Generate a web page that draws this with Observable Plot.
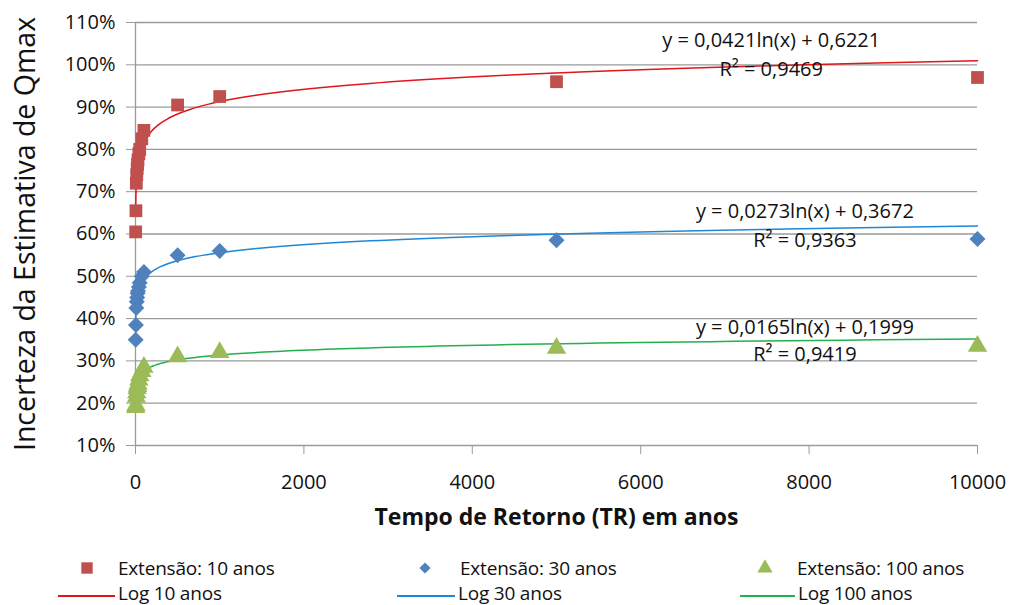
<!DOCTYPE html>
<html>
<head>
<meta charset="utf-8">
<script src="https://cdn.jsdelivr.net/npm/d3@7"></script>
<script src="https://cdn.jsdelivr.net/npm/@observablehq/plot@0.6"></script>
<style>
  body { margin: 0; background: #fff; font-family: "Open Sans", "Liberation Sans", sans-serif; overflow: hidden; }
  #wrap { position: relative; width: 1014px; height: 605px; }
  .leg { position: absolute; font-size: 19px; color: #111; white-space: nowrap; letter-spacing: -0.2px; line-height: 20px; }
  .sw { position: absolute; }
</style>
</head>
<body>
<div id="wrap">
  <div id="chart"></div>
</div>
<script>
// Return periods (TR, years)
const tr = [2, 5, 10, 15, 20, 25, 30, 40, 50, 75, 100, 500, 1000, 5000, 10000];
// Uncertainty for record length 10, 30, 100 years
const ext10  = [0.605, 0.655, 0.72, 0.74, 0.755, 0.765, 0.775, 0.79, 0.80, 0.825, 0.845, 0.905, 0.925, 0.96, 0.97];
const ext30  = [0.35, 0.385, 0.425, 0.44, 0.45, 0.46, 0.465, 0.475, 0.485, 0.50, 0.51, 0.55, 0.56, 0.585, 0.588];
const ext100 = [0.19, 0.195, 0.215, 0.225, 0.235, 0.24, 0.245, 0.255, 0.265, 0.275, 0.285, 0.31, 0.32, 0.33, 0.335];

// Logarithmic trendline coefficients y = a ln(x) + b, and R²
const seriesNames = ["10 anos", "30 anos", "100 anos"];
const trendA = [0.0421, 0.0273, 0.0165];
const trendB = [0.6221, 0.3672, 0.1999];
const trendR2 = ["0,9469", "0,9363", "0,9419"];
const eqText = ["y = 0,0421ln(x) + 0,6221", "y = 0,0273ln(x) + 0,3672", "y = 0,0165ln(x) + 0,1999"];

// x-axis ticks and y-axis ticks
const xTicks = [0, 2000, 4000, 6000, 8000, 10000];
const yTicks = [0.1, 0.2, 0.3, 0.4, 0.5, 0.6, 0.7, 0.8, 0.9, 1.0, 1.1];

const markerColors = ["#C0504D", "#4F81BD", "#9BBB59"];
const lineColors = ["#E0161B", "#1E88D8", "#22B14C"];
const symbols = ["square", "diamond2", "triangle"];
const seriesValues = [ext10, ext30, ext100];

const points = seriesValues.map((vals, i) => tr.map((t, j) => ({tr: t, v: vals[j], s: i})));

// trendline evaluated on the range of TR values (from the printed equation)
const xmin = d3.min(tr), xmax = d3.max(tr);
const curveX = d3.range(0, 201).map(k => xmin * Math.pow(xmax / xmin, k / 200));
const trend = trendA.map((a, i) => curveX.map(x => ({tr: x, v: a * Math.log(x) + trendB[i]})));

const FONT = "Open Sans, Liberation Sans, sans-serif";

const eqPos = [
  {x: 7550, y1: 1.058, y2: 0.988},
  {x: 7950, y1: 0.653, y2: 0.585},
  {x: 7950, y1: 0.378, y2: 0.316}
];

const chart = Plot.plot({
  width: 1014,
  height: 545,
  marginLeft: 135,
  marginRight: 37,
  marginTop: 22,
  marginBottom: 100,
  style: {fontFamily: FONT, fontSize: "20px", color: "#111", background: "white"},
  x: {domain: [0, 10000]},
  y: {domain: [0.1, 1.1]},
  marks: [
    Plot.ruleY(yTicks, {stroke: "#9a9a9a", strokeWidth: 1.3}),
    Plot.ruleX([0], {y1: 0.1, y2: 1.1, stroke: "#9a9a9a", strokeWidth: 1.3}),
    Plot.axisY({ticks: yTicks, tickFormat: d => Math.round(d * 100) + "%", tickSize: 9, tickPadding: 11, stroke: "#9a9a9a",
      label: null, fontSize: 20}),
    Plot.text(["Incerteza da Estimativa de Qmax"], {frameAnchor: "left", dx: -110, rotate: -90, textAnchor: "middle", fontSize: 28.5}),
    Plot.axisX({ticks: xTicks, tickFormat: d => String(d), tickSize: 9, tickPadding: 20, stroke: "#9a9a9a",
      label: null, fontSize: 20}),
    Plot.text(["Tempo de Retorno (TR) em anos"], {frameAnchor: "bottom", dy: 79, fontWeight: "bold", fontSize: 23}),
    ...trend.map((d, i) => Plot.line(d, {x: "tr", y: "v", stroke: lineColors[i], strokeWidth: 1.5})),
    ...points.map((d, i) => Plot.dot(d, {x: "tr", y: "v", fill: markerColors[i], symbol: symbols[i], r: 7.2, stroke: null})),
    ...eqPos.map((p, i) => Plot.text([eqText[i]], {x: () => p.x, y: () => p.y1, fontSize: 20})),
    ...eqPos.map((p, i) => Plot.text(["R² = " + trendR2[i]], {x: () => p.x, y: () => p.y2, fontSize: 20}))
  ]
});
document.getElementById("chart").appendChild(chart);

// legend below the plot
const wrap = document.getElementById("wrap");
const legCols = [{m: 87, t: 118, l1: 58, l2: 115}, {m: 425, t: 460, l1: 397, l2: 455}, {m: 765, t: 797, l1: 740, l2: 795}];
const symPath = {
  square: d3.symbol(d3.symbolSquare, 130)(),
  diamond2: d3.symbol(d3.symbolDiamond2, 80)(),
  triangle: d3.symbol(d3.symbolTriangle, 100)()
};
const row1 = 568, row2 = 593;
legCols.forEach((c, i) => {
  const s = document.createElementNS("http://www.w3.org/2000/svg", "svg");
  s.setAttribute("width", 20); s.setAttribute("height", 20);
  s.setAttribute("class", "sw");
  s.style.left = (c.m - 10) + "px"; s.style.top = (row1 - 10) + "px";
  s.innerHTML = `<path transform="translate(10,10)" d="${symPath[symbols[i]]}" fill="${markerColors[i]}"/>`;
  wrap.appendChild(s);
  const t1 = document.createElement("div");
  t1.className = "leg"; t1.textContent = "Extensão: " + seriesNames[i];
  t1.style.left = c.t + "px"; t1.style.top = (row1 - 10) + "px";
  wrap.appendChild(t1);
  const l = document.createElementNS("http://www.w3.org/2000/svg", "svg");
  l.setAttribute("width", c.l2 - c.l1); l.setAttribute("height", 4);
  l.setAttribute("class", "sw");
  l.style.left = c.l1 + "px"; l.style.top = (row2 + 1) + "px";
  l.innerHTML = `<line x1="0" x2="${c.l2 - c.l1}" y1="2" y2="2" stroke="${lineColors[i]}" stroke-width="2"/>`;
  wrap.appendChild(l);
  const t2 = document.createElement("div");
  t2.className = "leg"; t2.textContent = "Log " + seriesNames[i];
  t2.style.left = (c.l2 + 3) + "px"; t2.style.top = (row2 - 10) + "px";
  wrap.appendChild(t2);
});
</script>
</body>
</html>
